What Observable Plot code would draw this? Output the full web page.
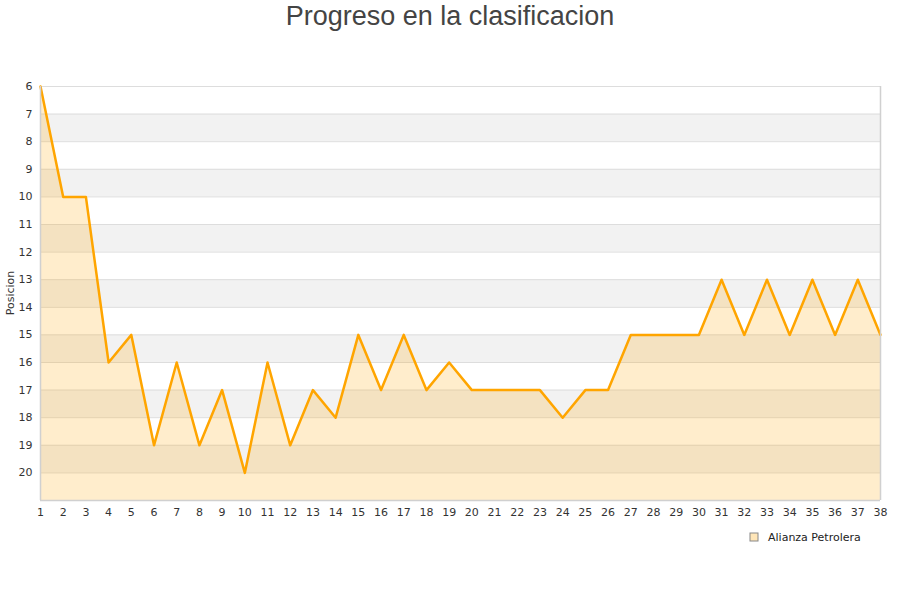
<!DOCTYPE html>
<html>
<head>
<meta charset="utf-8">
<script src="https://cdn.jsdelivr.net/npm/d3@7"></script>
<script src="https://cdn.jsdelivr.net/npm/@observablehq/plot@0.6"></script>
<style>
  body { margin: 0; background: #fff; }
  #chart { position: relative; width: 900px; height: 600px; }
</style>
</head>
<body>
<div id="chart"></div>
<script>
const jornadas = d3.range(1, 39);
const posiciones = [6, 10, 10, 16, 15, 19, 16, 19, 17, 20, 16, 19, 17, 18, 15, 17, 15, 17, 16, 17,
                    17, 17, 17, 18, 17, 17, 15, 15, 15, 15, 13, 15, 13, 15, 13, 15, 13, 15];
const team = "Alianza Petrolera";
const yTicks = d3.range(6, 21);
const bandStarts = [7, 9, 11, 13, 15, 17, 19];
const yMin = 6, yMax = 21;

const data = jornadas.map((j, i) => ({ j, pos: posiciones[i] }));
const bands = bandStarts.map(b => ({ y1: b, y2: b + 1 }));

const plot = Plot.plot({
  width: 900,
  height: 600,
  marginLeft: 40,
  marginRight: 20,
  marginTop: 86,
  marginBottom: 100,
  style: { fontFamily: "DejaVu Sans, sans-serif", fontSize: "11px", color: "#333" },
  x: { domain: [1, 38], ticks: jornadas, tickFormat: d => d, tickSize: 0, tickPadding: 8, label: null },
  y: { domain: [yMin, yMax], reverse: true, ticks: yTicks, tickSize: 0, tickPadding: 8, label: null },
  marks: [
    Plot.rectY(bands, { x1: 1, x2: 38, y1: "y1", y2: "y2", fill: "#f2f2f2" }),
    Plot.ruleY(d3.range(yMin, yMax + 1), { stroke: "#dddddd", strokeWidth: 1 }),
    Plot.areaY(data, { x: "j", y1: yMax, y2: "pos", fill: "orange", fillOpacity: 0.2 }),
    Plot.line(data, { x: "j", y: "pos", stroke: "orange", strokeWidth: 2.5 }),
    Plot.ruleX([1, 38], { y1: yMin, y2: yMax, stroke: "#d0d0d0", strokeWidth: 1.5 }),
    Plot.ruleY([yMax], { x1: 1, x2: 38, stroke: "#d0d0d0", strokeWidth: 1.5 })
  ]
});

const svg = d3.select(plot);
svg.append("text")
  .attr("x", 450).attr("y", 25)
  .attr("text-anchor", "middle")
  .style("font-family", "Liberation Sans, Arial, sans-serif")
  .style("font-size", "27px")
  .attr("fill", "#444")
  .text("Progreso en la clasificacion");
svg.append("text")
  .attr("transform", "translate(14,293) rotate(-90)")
  .attr("text-anchor", "middle")
  .style("font-family", "DejaVu Sans, sans-serif")
  .style("font-size", "11px")
  .attr("fill", "#333")
  .text("Posicion");
const lg = svg.append("g").attr("transform", "translate(750,533)");
lg.append("rect").attr("x", 0).attr("y", 0).attr("width", 8).attr("height", 8)
  .attr("fill", "#ffe6b8").attr("stroke", "#888").attr("stroke-width", 1);
lg.append("text").attr("x", 18).attr("y", 8)
  .attr("text-anchor", "start")
  .style("text-anchor", "start")
  .style("font-family", "DejaVu Sans, sans-serif")
  .style("font-size", "11px")
  .attr("fill", "#222")
  .text(team);

document.getElementById("chart").appendChild(plot);
</script>
</body>
</html>
